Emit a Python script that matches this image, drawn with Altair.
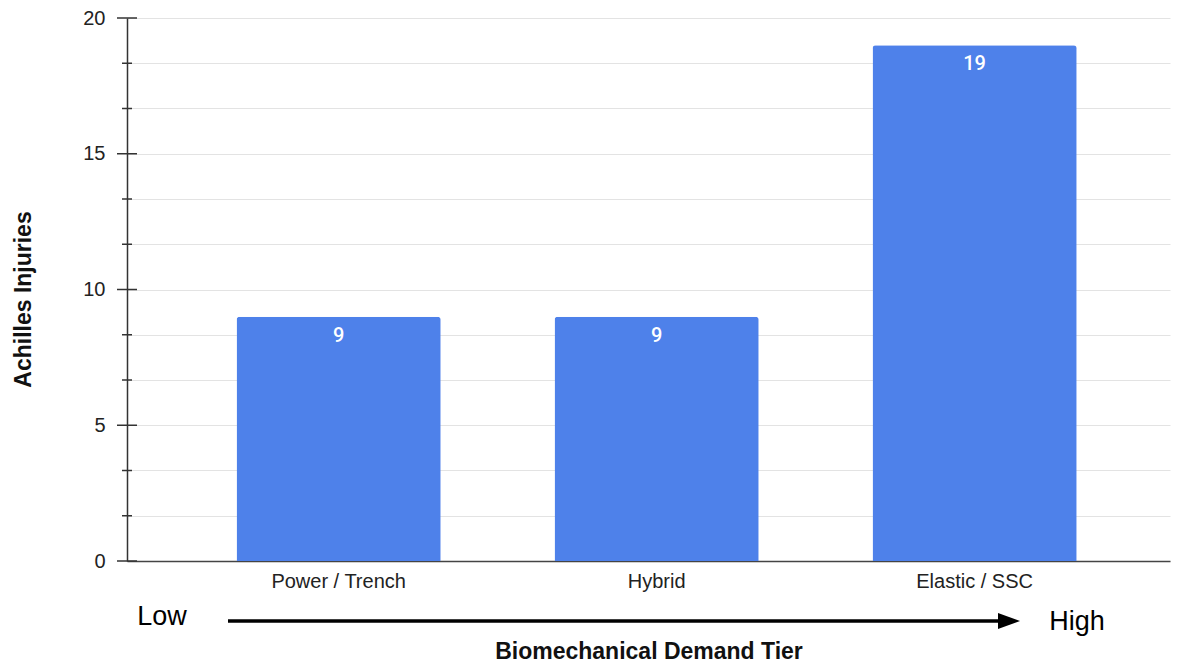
import altair as alt
import pandas as pd

categories = ["Power / Trench", "Hybrid", "Elastic / SSC"]
injuries = [9, 9, 19]
major_ticks = [0, 5, 10, 15, 20]
minor_ticks = [5/3, 10/3, 20/3, 25/3, 35/3, 40/3, 50/3, 55/3]
grid_values = sorted(major_ticks + minor_ticks)

bars_df = pd.DataFrame({"tier": categories, "injuries": injuries})
major_df = pd.DataFrame({"v": major_ticks})
minor_df = pd.DataFrame({"v": minor_ticks})
ann_df = pd.DataFrame({"t": ["Low", "High"]})

FONT = "Liberation Sans"
BAR = "#4e81ea"

yscale = alt.Scale(domain=[0, 20], nice=False, zero=True)

bars = alt.Chart(bars_df).mark_bar(
    color=BAR, cornerRadiusTopLeft=3, cornerRadiusTopRight=3
).encode(
    x=alt.X("tier:N", sort=None,
            scale=alt.Scale(paddingInner=0.358, paddingOuter=0.319, align=0.54),
            axis=alt.Axis(title="Biomechanical Demand Tier", labelAngle=0,
                          ticks=False, domain=True, domainColor="#444", domainWidth=1.5,
                          labelFont=FONT, labelFontSize=20, labelColor="#222",
                          labelPadding=10, titleFont=FONT, titleFontSize=23,
                          titleFontWeight="bold", titleColor="#111", titlePadding=49)),
    y=alt.Y("injuries:Q", scale=yscale,
            axis=alt.Axis(title="Achilles Injuries", values=grid_values,
                          labelExpr="datum.value % 5 == 0 ? datum.label : ''",
                          ticks=False, domain=True, domainColor="#333", domainWidth=1.5,
                          grid=True, gridColor="#e3e3e3", gridWidth=1,
                          labelFont=FONT, labelFontSize=20, labelColor="#222",
                          labelPadding=22, titleFont=FONT, titleFontSize=23,
                          titleFontWeight="bold", titleColor="#111", titlePadding=47,
                          titleY=281)),
)

labels = alt.Chart(bars_df).mark_text(
    color="white", font="Roboto", fontSize=20, fontWeight=500, baseline="top", dy=9
).encode(
    x=alt.X("tier:N", sort=None),
    y=alt.Y("injuries:Q", scale=yscale),
    text="injuries:Q",
)

major = alt.Chart(major_df).mark_rule(color="#333", strokeWidth=1.5).encode(
    y=alt.Y("v:Q", scale=yscale), x=alt.value(-10), x2=alt.value(10)
)
minor = alt.Chart(minor_df).mark_rule(color="#333", strokeWidth=1.5).encode(
    y=alt.Y("v:Q", scale=yscale), x=alt.value(-5), x2=alt.value(5)
)

low = alt.Chart(ann_df.iloc[[0]]).mark_text(
    font=FONT, fontSize=27, color="#000", align="center", baseline="middle"
).encode(text="t:N", x=alt.value(35), y=alt.value(599))
high = alt.Chart(ann_df.iloc[[1]]).mark_text(
    font=FONT, fontSize=27, color="#000", align="center", baseline="middle"
).encode(text="t:N", x=alt.value(950), y=alt.value(604))

arrow_line = alt.Chart(ann_df.iloc[[0]]).mark_rule(color="#000", strokeWidth=3.5).encode(
    x=alt.value(101), x2=alt.value(880), y=alt.value(603)
)
arrow_head = alt.Chart(ann_df.iloc[[0]]).mark_point(
    shape="M-1,-0.73L1,0L-1,0.73Z", size=484, filled=True, color="#000", opacity=1
).encode(x=alt.value(882), y=alt.value(603))

chart = alt.layer(bars, labels, major, minor, arrow_line, arrow_head, low, high).properties(
    width=1043, height=543,
    autosize=alt.AutoSizeParams(type="none"),
    padding={"left": 119, "top": 10, "right": 2, "bottom": 102},
).configure_view(stroke=None)

chart.save("out.html", embed_options={"renderer": "svg", "actions": False})
